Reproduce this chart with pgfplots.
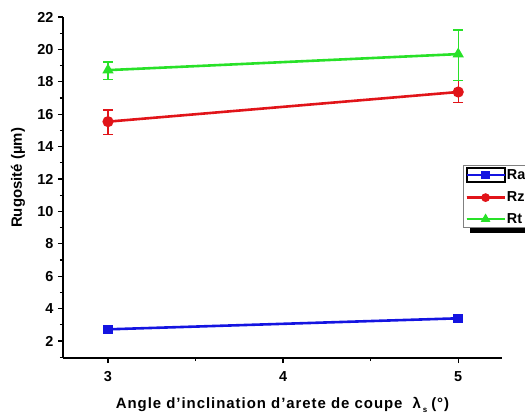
\documentclass[border=0pt]{standalone}
\usepackage{pgfplots}
\pgfplotsset{compat=1.18}
\usepackage{fontspec}
\setmainfont{Liberation Sans}
\definecolor{cRa}{RGB}{20,20,225}
\definecolor{cRz}{RGB}{225,20,25}
\definecolor{cRt}{RGB}{40,225,40}
\pgfplotsset{
  boxedlegend/.style={
    legend image code/.code={
      \draw[black, line width=2bp, fill=none] (0bp,-7bp) rectangle (38bp,7bp);
      \draw[cRa, line width=2.6bp] (0bp,0bp) -- (38bp,0bp);
      \draw[cRa, mark=square*, mark size=3bp] plot coordinates {(19bp,0bp)};
    }
  }
}
\begin{document}
\begin{tikzpicture}
\begin{axis}[
  scale only axis,
  width=439bp, height=341bp,
  xmin=2.743, xmax=5.25, ymin=0.95, ymax=22,
  axis x line*=bottom, axis y line*=left,
  axis line style={-, line width=1.6bp, black},
  xtick={3,4,5}, minor xtick={3.5,4.5},
  ytick={2,4,...,22}, minor ytick={1,3,...,21},
  tick align=outside,
  major tick length=5bp, minor tick length=3bp,
  every tick/.style={black, line width=1.3bp},
  /pgf/number format/assume math mode=true,
  tick label style={font=\fontsize{14.5}{16}\selectfont\bfseries},
  xticklabel style={yshift=-5bp},
  yticklabel style={xshift=-1bp},
  xlabel={Angle d'inclination d'arete de coupe\hspace{10bp}λ\hspace{2bp}\raisebox{-3.5bp}{\fontsize{8}{9}\selectfont s}\hspace{4bp}(°)},
  ylabel={Rugosité (µm)},
  xlabel style={font=\fontsize{15}{17}\selectfont\bfseries\addfontfeatures{LetterSpace=6.5},
    at={(rel axis cs:0.5,0)}, anchor=center, yshift=-47bp},
  ylabel style={font=\fontsize{15}{17}\selectfont\bfseries,
    at={(rel axis cs:0,0.528)}, anchor=center, yshift=45bp},
  clip=false,
  legend style={at={(rel axis cs:0.912,0.566)}, anchor=north west,
    name=leg,
    draw=gray, line width=0.8bp, fill=white,
    font=\fontsize{14.5}{17}\selectfont\bfseries,
    inner sep=1.5bp, row sep=8bp, legend cell align=left,
    nodes={inner xsep=1bp, inner ysep=1bp}},
  legend image code/.code={
    \draw[#1, line width=2.6bp] (0bp,0bp) -- (38bp,0bp);
    \draw[#1, mark size=3bp, mark repeat=2, mark phase=2] plot coordinates {(0bp,0bp) (19bp,0bp) (38bp,0bp)};
  },
]
\coordinate (SW) at (rel axis cs:0,0);
\addplot[cRa, line width=2.6bp, mark=square*, mark size=3.5bp, mark options={solid}, boxedlegend]
  coordinates {(3,2.72) (5,3.40)};
\addlegendentry{Ra}
\addplot[cRz, line width=2.6bp, mark=*, mark size=4.2bp,
  error bars/.cd, y dir=both, y explicit,
  error bar style={line width=1.3bp}, error mark options={rotate=90, mark size=5bp, line width=1.3bp}]
  coordinates {(3,15.54) +=(0,0.72) -=(0,0.79) (5,17.37) +=(0,0.69) -=(0,0.65)};
\addlegendentry{Rz}
\addplot[cRt, line width=2.6bp, mark=triangle*, mark size=4bp,
  error bars/.cd, y dir=both, y explicit,
  error bar style={line width=1.3bp}, error mark options={rotate=90, mark size=5bp, line width=1.3bp}]
  coordinates {(3,18.72) +=(0,0.51) -=(0,0.56) (5,19.71) +=(0,1.49) -=(0,1.61)};
\addlegendentry{Rt}
\end{axis}
\fill[black] ([xshift=7bp]leg.south west) rectangle ([xshift=30bp,yshift=-5bp]leg.south east);
\pgfresetboundingbox
\path (SW) ++(-63bp,-61bp) rectangle ++(525bp,419bp);
\end{tikzpicture}
\end{document}
